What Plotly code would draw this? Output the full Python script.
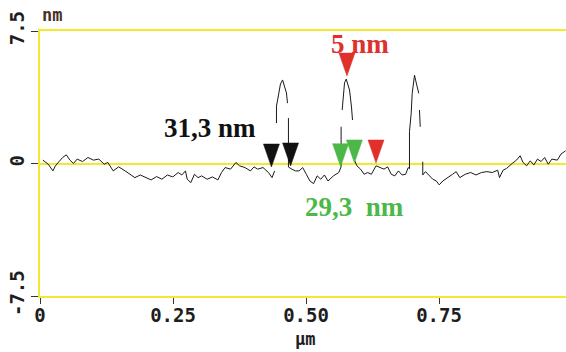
import plotly.graph_objects as go

# ---- profile data (µm, nm); None = visible break in the trace ----
base1_x = [0.0053, 0.0155, 0.0243, 0.029, 0.0358, 0.0426, 0.0494, 0.0562, 0.063, 0.0698, 0.08, 0.0901,
           0.1003, 0.1105, 0.1207, 0.1275, 0.1376, 0.1478, 0.158, 0.1682, 0.1784, 0.1885, 0.1987, 0.2089,
           0.2191, 0.2292, 0.2394, 0.2496, 0.2598, 0.2666, 0.2734, 0.2767, 0.2835, 0.2903, 0.2971, 0.3039,
           0.3141, 0.3242, 0.3344, 0.3412, 0.348, 0.3582, 0.3683, 0.3751, 0.3853, 0.3955, 0.4023, 0.4091,
           0.4192, 0.4294, 0.4362, 0.441]
base1_y = [0.19, -0.04, -0.42, -0.13, 0.11, 0.34, 0.49, 0.19, 0.0, 0.25, 0.11, 0.34,
           0.19, 0.25, -0.04, 0.06, -0.42, -0.19, -0.38, -0.61, -0.8, -0.65, -0.8, -0.93,
           -0.74, -0.89, -0.65, -0.76, -0.51, -0.65, -0.42, -0.89, -1.08, -0.61, -0.8, -0.7,
           -0.89, -0.76, -0.93, -0.51, -0.23, -0.32, 0.06, -0.13, -0.23, -0.42, -0.19, -0.32,
           -0.23, -0.51, -0.8, -0.42]

peak1_x = [0.4445, 0.4445, 0.4483, 0.452, 0.456, 0.4596, 0.4633, 0.4652]
peak1_y = [2.29, 3.25, 3.88, 4.5, 4.73, 4.33, 3.99, 3.42]

base2_x = [0.467, 0.467, 0.4735, 0.4803, 0.487, 0.4938, 0.5006, 0.5074, 0.5142, 0.521, 0.5278, 0.5346,
           0.5414, 0.5516, 0.5617, 0.566, 0.566]
base2_y = [2.57, -0.2, -0.32, -0.42, -0.42, -0.23, -0.61, -0.99, -1.14, -0.7, -0.89, -0.65,
           -0.99, -0.7, -0.51, -0.18, 2.08]

peak2_x = [0.568, 0.5705, 0.5724, 0.5756, 0.5818, 0.5855, 0.5874]
peak2_y = [3.03, 3.99, 4.56, 4.78, 4.16, 3.2, 2.46]

base3_x = [0.591, 0.5957, 0.6025, 0.6093, 0.6161, 0.6228, 0.6317, 0.6398, 0.6466, 0.6534, 0.6602, 0.667,
           0.6738, 0.6806, 0.6873, 0.6921, 0.6945, 0.6945, 0.6977, 0.6996, 0.702, 0.704, 0.706, 0.7083,
           0.712]
base3_y = [0.2, -0.13, -0.32, -0.61, -0.51, -0.61, -0.13, -0.23, -0.32, -0.19, -0.61, -0.7,
           -0.42, -0.65, -0.61, -0.23, -0.3, 1.8, 2.84, 3.97, 4.54, 5.0, 4.72, 4.35,
           3.97]

peak3_x = [0.7133, 0.7147]
peak3_y = [3.03, 2.08]

base4_x = [0.7195, 0.7195, 0.7246, 0.7314, 0.7382, 0.745, 0.7504, 0.7572, 0.7653, 0.7755, 0.7823, 0.7891,
           0.7993, 0.8094, 0.8196, 0.8298, 0.84, 0.8502, 0.8603, 0.8637, 0.8705, 0.8773, 0.8875, 0.8957,
           0.9025, 0.9079, 0.9147, 0.9215, 0.9283, 0.9351, 0.9418, 0.9486, 0.9554, 0.9622, 0.9724, 0.9792,
           0.988]
base4_y = [0.1, -0.65, -0.46, -0.65, -0.89, -0.99, -1.21, -0.99, -0.8, -0.61, -0.46, -0.8,
           -0.61, -0.51, -0.65, -0.51, -0.46, -0.51, -0.38, -0.8, -0.38, -0.27, 0.0, 0.19,
           0.44, 0.06, -0.13, 0.15, -0.08, 0.25, 0.11, 0.34, -0.04, 0.25, 0.19, 0.53,
           0.72]

segments = [(base1_x, base1_y), (peak1_x, peak1_y), (base2_x, base2_y), (peak2_x, peak2_y),
            (base3_x, base3_y), (peak3_x, peak3_y), (base4_x, base4_y)]

# cursor markers (tip position in µm, nm)
cursor_x = [0.435, 0.471, 0.565, 0.591, 0.6316, 0.577]
cursor_y = [-0.2, -0.14, -0.18, 0.03, 0.03, 4.95]
cursor_color = ["#111111", "#111111", "#4cb848", "#4cb848", "#e0302c", "#e0302c"]

# labels
label_text = ["31,3 nm", "5 nm", "29,3\u00a0 nm"]
label_x = [0.3186, 0.6024, 0.592]
label_y = [2.0, 6.76, -2.46]
label_color = ["#111111", "#e0302c", "#4cb848"]

x_ticks = [0, 0.25, 0.5, 0.75]
x_tick_text = ["0", "0.25", "0.50", "0.75"]
y_ticks = [-7.5, 0, 7.5]
y_tick_text = ["-7.5", "0", "7.5"]

YELLOW = "#f2e82e"

px_all, py_all = [], []
for i, (sx, sy) in enumerate(segments):
    assert len(sx) == len(sy)
    if i:
        px_all.append(None)
        py_all.append(None)
    px_all += sx
    py_all += sy

fig = go.Figure()
fig.add_trace(go.Scatter(x=px_all, y=py_all, mode="lines",
                         line=dict(color="#1a1a1a", width=1), connectgaps=False,
                         hoverinfo="skip", showlegend=False))

for cx, cy, cc in zip(cursor_x, cursor_y, cursor_color):
    fig.add_shape(type="path", xref="x", yref="y", xsizemode="pixel", ysizemode="pixel",
                  xanchor=cx, yanchor=cy, path="M -8,23 L 8,23 L 0,0 Z",
                  fillcolor=cc, line=dict(color=cc, width=0.5), layer="above")

for t, lx, ly, lc in zip(label_text, label_x, label_y, label_color):
    fig.add_annotation(x=lx, y=ly, xref="x", yref="y", text="<b>" + t + "</b>", showarrow=False,
                       xanchor="center", yanchor="middle",
                       font=dict(family="Liberation Serif", size=27, color=lc))

tick_font = dict(family="DejaVu Sans Mono", size=19, color="#1e1e1e", weight="bold")

# axis unit titles (paper coords relative to the 526x265 plot area at l=40, t=31)
fig.add_annotation(x=(52 - 40) / 526, y=(296 - 15) / 265, xref="paper", yref="paper", text="nm",
                   showarrow=False, xanchor="center", yanchor="middle",
                   font=dict(family="DejaVu Sans Mono", size=17, color="#4a3024", weight="bold"))
fig.add_annotation(x=(305 - 40) / 526, y=(296 - 339) / 265, xref="paper", yref="paper", text="µm",
                   showarrow=False, xanchor="center", yanchor="middle",
                   font=dict(family="DejaVu Sans Mono", size=17, color="#1e1e1e", weight="bold"))

fig.update_layout(
    width=566, height=352,
    margin=dict(l=40, r=0, t=31, b=56, autoexpand=False),
    paper_bgcolor="white", plot_bgcolor="white",
    showlegend=False,
    xaxis=dict(range=[0, 526 / 532], showgrid=False, zeroline=False,
               showline=True, linecolor=YELLOW, linewidth=1.5, mirror=True,
               ticks="outside", ticklen=6, tickwidth=1, tickcolor="#333333",
               tickvals=x_ticks, ticktext=x_tick_text, tickfont=tick_font,
               ticklabelstandoff=-5),
    yaxis=dict(range=[-7.5, 7.5], showgrid=False,
               zeroline=True, zerolinecolor=YELLOW, zerolinewidth=1.5,
               showline=True, linecolor=YELLOW, linewidth=1.5, mirror=False,
               ticks="outside", ticklen=7, tickwidth=1, tickcolor="#333333",
               tickvals=y_ticks, ticktext=y_tick_text, tickfont=tick_font, tickangle=-90),
)

fig.write_html("out.html")
